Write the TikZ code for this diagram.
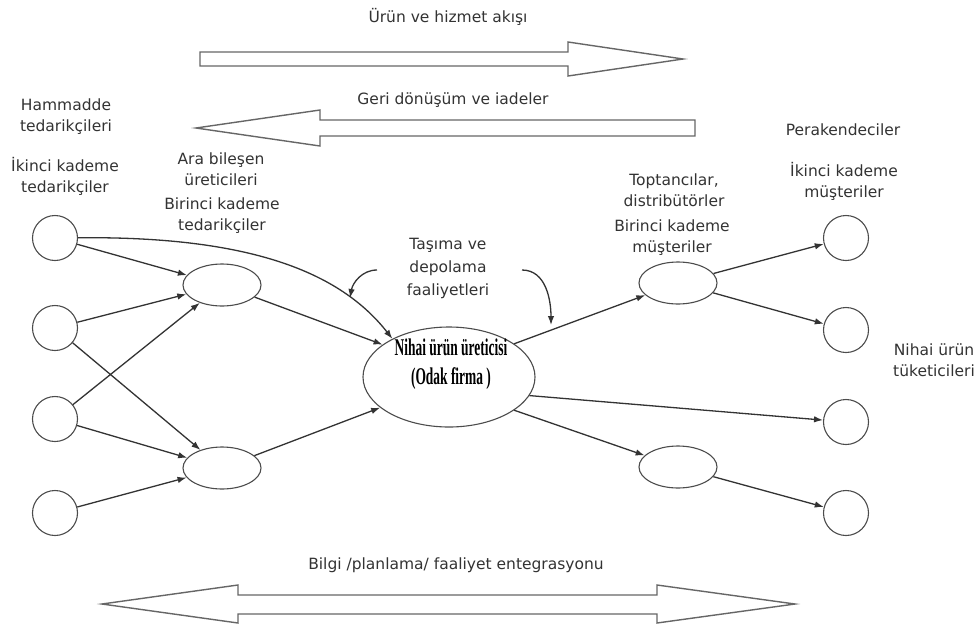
\documentclass[tikz,border=0pt]{standalone}
\usepackage{fontspec}
\setmainfont{DejaVu Sans}
\newfontfamily\firmfont{Liberation Serif}
\usetikzlibrary{arrows.meta,shapes.geometric}

\begin{document}
\begin{tikzpicture}[x=1pt,y=1pt,
  lbl/.style={font=\fontsize{15.5}{21}\selectfont, text=black!80, align=center, inner sep=0pt},
  circ/.style={circle, draw=black!70, line width=1.1pt, minimum size=45pt, inner sep=0pt},
  ell/.style={ellipse, draw=black!70, line width=1.1pt, minimum width=78pt, minimum height=42pt, inner sep=0pt},
  conn/.style={draw=black!80, line width=1.3pt, -{Latex[length=9pt,width=6.5pt]}},
  blockarrow/.style={draw=black!60, line width=1.4pt, line join=miter}
]
\useasboundingbox[fill=white] (0,0) rectangle (980,-630);

% flow arrows
\node[lbl] (flowlbl) at (448,-17) {Ürün ve hizmet akışı};
\draw[blockarrow] (200,-52) -- (568,-52) -- (568,-42) -- (683,-59) -- (568,-76) -- (568,-66) -- (200,-66) -- cycle;
\node[lbl] (returnlbl) at (453,-100) {Geri dönüşüm ve iadeler};
\draw[blockarrow] (695,-120) -- (320,-120) -- (320,-110) -- (196,-128) -- (320,-146) -- (320,-136) -- (695,-136) -- cycle;
\node[lbl] (infolbl) at (456,-565) {Bilgi /planlama/ faaliyet entegrasyonu};
\draw[blockarrow] (102,-604) -- (238,-585) -- (238,-595) -- (657,-595) -- (657,-585) -- (795,-604)
  -- (657,-623) -- (657,-614) -- (238,-614) -- (238,-623) -- cycle;

% tier labels
\node[lbl] (hamlbl) at (66,-117) {Hammadde\\tedarikçileri};
\node[lbl] (tier2lbl) at (65,-176) {İkinci kademe\\tedarikçiler};
\node[lbl] (aralbl) at (221,-169) {Ara bileşen\\üreticileri};
\node[lbl] (tier1lbl) at (222,-216) {Birinci kademe\\tedarikçiler};
\node[lbl, font=\fontsize{15.5}{23}\selectfont] (tasimalbl) at (448,-268) {Taşıma ve\\depolama\\faaliyetleri};
\node[lbl] (toptanlbl) at (674,-190) {Toptancılar,\\distribütörler};
\node[lbl] (cust1lbl) at (672,-238) {Birinci kademe\\müşteriler};
\node[lbl] (peraklbl) at (843,-130) {Perakendeciler};
\node[lbl] (cust2lbl) at (844,-181) {İkinci kademe\\müşteriler};
\node[lbl] (finallbl) at (934,-360) {Nihai ürün\\tüketicileri};

% nodes
\node[circ] (L1) at (55,-238) {};
\node[circ] (L2) at (55,-328) {};
\node[circ] (L3) at (55,-419) {};
\node[circ] (L4) at (55,-513) {};
\node[ell] (UE) at (222,-285) {};
\node[ell] (LE) at (222,-468) {};
\node[ellipse, draw=black!70, line width=1.1pt, minimum width=172pt, minimum height=100pt, inner sep=0pt] (C) at (449,-377) {};
\node[inner sep=0pt, align=center, text=black, font=\firmfont\bfseries\fontsize{24}{29}\selectfont] (Ctxt) at (451,-364)
  {\scalebox{0.56}[1]{Nihai ürün üreticisi}\\\scalebox{0.56}[1]{(Odak firma )}};
\node[ell] (RU) at (678,-283) {};
\node[ell] (RL) at (678,-467) {};
\node[circ] (R1) at (846,-238) {};
\node[circ] (R2) at (846,-330) {};
\node[circ] (R3) at (846,-422) {};
\node[circ] (R4) at (846,-513) {};

% connectors
\draw[conn] (L1) -- (UE);
\draw[conn] (L2) -- (UE);
\draw[conn] (L2) -- (LE);
\draw[conn] (L3) -- (UE);
\draw[conn] (L3) -- (LE);
\draw[conn] (L4) -- (LE);
\draw[conn] (L1) .. controls (250,-236) and (340,-272) .. (C.146);
\draw[conn] (UE) -- (C.154);
\draw[conn] (LE) -- (C.204);
\draw[conn] (C.27) -- (RU);
\draw[conn] (C.-13) -- (R3);
\draw[conn] (C.-27) -- (RL);
\draw[conn] (RU) -- (R1);
\draw[conn] (RU) -- (R2);
\draw[conn] (RL) -- (R4);

% transport and storage pointers
\coordinate (tl0) at (377,-270);
\coordinate (tl1) at (350,-298);
\draw[conn] (tl0) to[out=180,in=80] (tl1);
\coordinate (tr0) at (522,-270);
\coordinate (tr1) at (551,-325);
\draw[conn] (tr0) to[out=0,in=90] (tr1);
\end{tikzpicture}
\end{document}
